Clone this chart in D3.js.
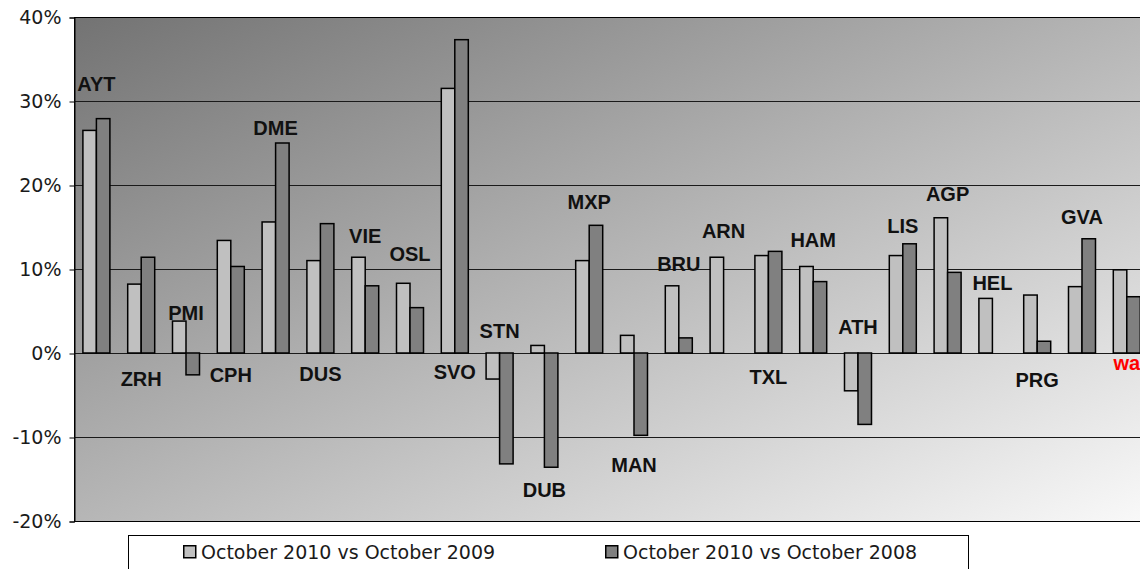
<!DOCTYPE html>
<html>
<head>
<meta charset="utf-8">
<script src="https://cdn.jsdelivr.net/npm/d3@7/dist/d3.min.js"></script>
<style>
  html, body { margin: 0; padding: 0; background: #fff; }
  svg { display: block; }
</style>
</head>
<body>
<svg id="chart" width="1140" height="569"></svg>
<script>
// airports, change in passengers (%)
var airports = ["AYT","ZRH","PMI","CPH","DME","DUS","VIE","OSL","SVO","STN","DUB","MXP",
                "MAN","BRU","ARN","TXL","HAM","ATH","LIS","AGP","HEL","PRG","GVA","wa"];
var vs2009 = [26.5, 8.2, 3.8, 13.4, 15.6, 11.0, 11.4, 8.3, 31.5, -3.1, 0.9, 11.0,
              2.1, 8.0, 11.4, 11.6, 10.3, -4.5, 11.6, 16.1, 6.5, 6.9, 7.9, 9.9];
var vs2008 = [27.9, 11.4, -2.6, 10.3, 25.0, 15.4, 8.0, 5.4, 37.3, -13.2, -13.6, 15.2,
              -9.8, 1.8, null, 12.1, 8.5, -8.5, 13.0, 9.6, null, 1.4, 13.6, 6.7];
// where the airport code sits, in % on the value axis
var labelAt = [32.1, -3.1, 4.8, -2.6, 26.8, -2.5, 14.0, 11.8, -2.2, 2.65, -16.3, 18.0,
               -13.3, 10.6, 14.6, -2.8, 13.5, 3.1, 15.1, 18.9, 8.3, -3.2, 16.2, -1.15];
var seriesNames = ["October 2010 vs October 2009", "October 2010 vs October 2008"];
var seriesColors = ["#c0c0c0", "#808080"];
var yTicks = [-20, -10, 0, 10, 20, 30, 40];

var svg = d3.select("#chart");
var plotLeft = 74, plotTop = 17, plotBottom = 521, step = 44.8;

var x = d3.scaleBand().domain(airports).range([plotLeft, plotLeft + step * airports.length]);
var inner = d3.scaleBand().domain([0, 1]).range([(step - 27) / 2, (step + 27) / 2]);
var y = d3.scaleLinear().domain([-20, 40]).range([plotBottom, plotTop]);
var plotRight = x.range()[1];

var defs = svg.append("defs");
var grad = defs.append("linearGradient").attr("id", "bg")
    .attr("x1", 0).attr("y1", 0).attr("x2", 1).attr("y2", 1);
grad.append("stop").attr("offset", 0).attr("stop-color", "#737373");
grad.append("stop").attr("offset", 1).attr("stop-color", "#f9f9f9");

svg.append("rect")
    .attr("x", plotLeft + 0.5).attr("y", plotTop + 0.5)
    .attr("width", plotRight - plotLeft).attr("height", plotBottom - plotTop)
    .attr("fill", "url(#bg)").attr("stroke", "#000").attr("stroke-width", 1);

// grid
svg.append("g").selectAll("line")
    .data(yTicks.filter(function(d){ return d > -20 && d < 40; }))
    .enter().append("line")
    .attr("x1", plotLeft).attr("x2", plotRight)
    .attr("y1", function(d){ return Math.round(y(d)) + 0.5; })
    .attr("y2", function(d){ return Math.round(y(d)) + 0.5; })
    .attr("stroke", "#1a1a1a").attr("stroke-width", 1);

// y axis
var yAxis = svg.append("g")
    .attr("transform", "translate(" + (plotLeft + 0.5) + ",0.5)")
    .call(d3.axisLeft(y).tickValues(yTicks).tickSize(5).tickPadding(8)
      .tickFormat(function(d){ return d + "%"; }));
yAxis.select(".domain").attr("stroke", "#000");
yAxis.selectAll(".tick line").attr("stroke", "#000");
yAxis.selectAll("text")
    .attr("font-family", "DejaVu Sans, sans-serif")
    .attr("font-size", 19).attr("fill", "#1a1a1a");

// bars
var groups = svg.append("g").selectAll("g")
    .data(airports).enter().append("g")
    .attr("transform", function(d){ return "translate(" + x(d) + ",0)"; });

groups.selectAll("rect")
    .data(function(d, i){
      return [{s: 0, v: vs2009[i]}, {s: 1, v: vs2008[i]}].filter(function(b){ return b.v !== null; });
    })
    .enter().append("rect")
    .attr("x", function(b){ return inner(b.s); })
    .attr("width", inner.bandwidth())
    .attr("y", function(b){ return y(Math.max(0, b.v)); })
    .attr("height", function(b){ return Math.abs(y(b.v) - y(0)); })
    .attr("fill", function(b){ return seriesColors[b.s]; })
    .attr("stroke", "#000").attr("stroke-width", 1.5);

// airport codes
svg.append("g").selectAll("text")
    .data(airports).enter().append("text")
    .attr("x", function(d){ return x(d) + step / 2; })
    .attr("y", function(d, i){ return y(labelAt[i]); })
    .attr("dy", "0.36em")
    .attr("text-anchor", "middle")
    .attr("font-family", "Liberation Sans, Arial, sans-serif")
    .attr("font-weight", "bold").attr("font-size", 20)
    .attr("fill", function(d, i){ return i === airports.length - 1 ? "#ff0000" : "#111"; })
    .text(function(d){ return d; });

// legend
svg.append("rect")
    .attr("x", 128.5).attr("y", 535.5).attr("width", 840).attr("height", 60)
    .attr("fill", "#fff").attr("stroke", "#000").attr("stroke-width", 1);

var legendX = [183, 605];
var leg = svg.append("g").selectAll("g")
    .data(seriesNames).enter().append("g")
    .attr("transform", function(d, i){ return "translate(" + legendX[i] + ",545)"; });
leg.append("rect")
    .attr("x", 0.75).attr("y", 0.75).attr("width", 12).attr("height", 12)
    .attr("fill", function(d, i){ return seriesColors[i]; })
    .attr("stroke", "#000").attr("stroke-width", 1.5);
leg.append("text")
    .attr("x", 18).attr("y", 14)
    .attr("font-family", "DejaVu Sans, sans-serif").attr("font-size", 19)
    .attr("fill", "#1a1a1a")
    .text(function(d){ return d; });
</script>
</body>
</html>
